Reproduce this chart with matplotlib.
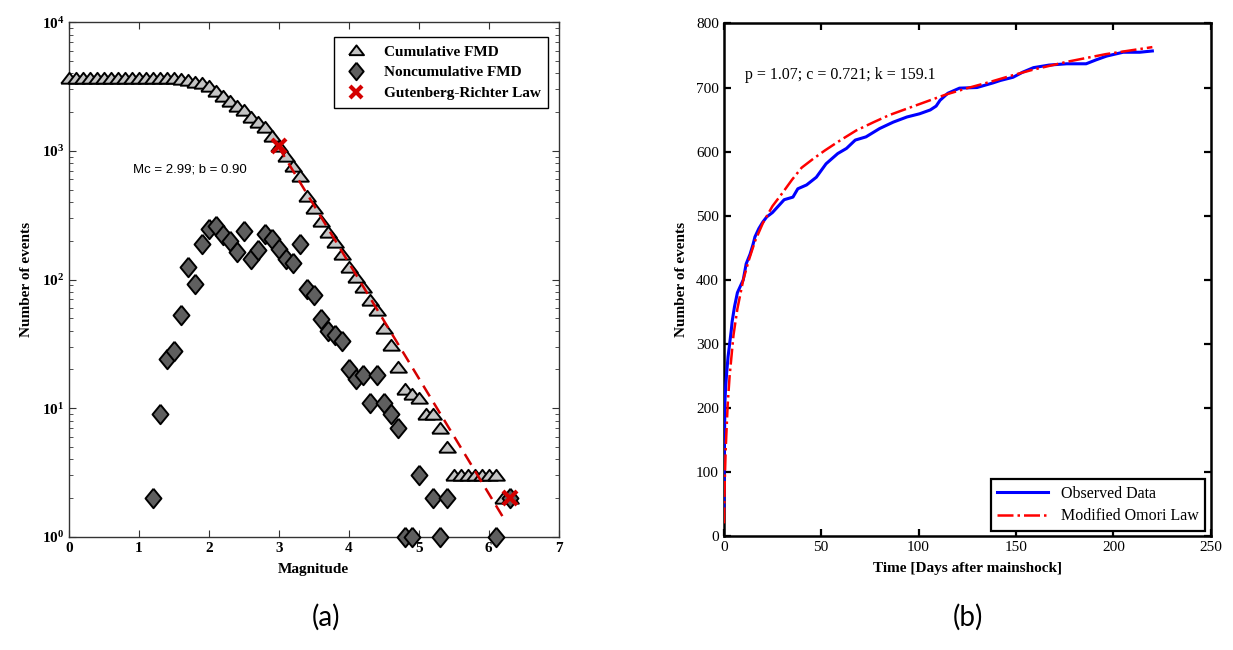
import numpy as np
import matplotlib
matplotlib.use("Agg")
import matplotlib.pyplot as plt

plt.rcParams["font.family"] = "Liberation Serif"
plt.rcParams["mathtext.fontset"] = "custom"
plt.rcParams["mathtext.bf"] = "Liberation Serif:bold"
plt.rcParams["mathtext.rm"] = "Liberation Serif"

# ---- (a) frequency-magnitude distribution ----
mag = [round(0.1 * i, 1) for i in range(64)]
cum_fmd = [3690, 3690, 3690, 3690, 3690, 3690, 3690, 3690, 3690, 3690, 3690, 3690,
           3690, 3687, 3678, 3654, 3625, 3572, 3446, 3353, 3164, 2917, 2655, 2435,
           2237, 2073, 1833, 1688, 1518, 1292, 1085, 911, 766, 632, 443, 359, 283,
           234, 194, 157, 124, 104, 87, 69, 58, 42, 31, 21, 14, 13, 12, 9, 9, 7, 5,
           3, 3, 3, 3, 3, 3, 3, 2, 2]

noncum_mag = [1.2, 1.3, 1.4, 1.5, 1.6, 1.7, 1.8, 1.9, 2.0, 2.1, 2.2, 2.3, 2.4, 2.5,
              2.6, 2.7, 2.8, 2.9, 3.0, 3.1, 3.2, 3.3, 3.4, 3.5, 3.6, 3.7, 3.8, 3.9,
              4.0, 4.1, 4.2, 4.3, 4.4, 4.5, 4.6, 4.7, 4.8, 4.9, 5.0, 5.2, 5.3, 5.4,
              6.1, 6.3]
noncum_fmd = [2, 9, 24, 28, 53, 126, 93, 189, 247, 262, 220, 198, 164, 240,
              145, 170, 226, 207, 174, 145, 134, 189, 84, 76, 49, 40, 37, 33,
              20, 17, 18, 11, 18, 11, 9, 7, 1, 1, 3, 2, 1, 2,
              1, 2]

gr_line_mag = [2.99, 6.25]
gr_line_n = [1085, 1.3]
gr_mark_mag = [3.0, 6.3]
gr_mark_n = [1085, 2]

fmd_yticks = [1, 10, 100, 1000, 10000]
fmd_yticklabels = [r"$\mathbf{10^{0}}$", r"$\mathbf{10^{1}}$", r"$\mathbf{10^{2}}$",
                   r"$\mathbf{10^{3}}$", r"$\mathbf{10^{4}}$"]

# ---- (b) aftershock decay ----
obs_t = [0.0, 0.2, 0.4, 0.6, 1.0, 1.5, 2.2, 3.0, 3.8, 4.3, 5.5, 7.0, 8.5, 10.0, 11.5,
         13.5, 15.0, 16.0, 18.0, 20.0, 22.0, 25.0, 28.0, 31.0, 35.5, 38.0, 42.5,
         47.5, 52.5, 58.5, 63.0, 67.5, 73.0, 80.0, 87.0, 94.0, 100.5, 106.0, 109.0,
         111.0, 115.0, 121.0, 130.0, 138.0, 142.0, 148.5, 153.5, 159.0, 167.0,
         176.0, 186.0, 191.0, 196.5, 205.0, 213.5, 220.0]
obs_n = [40, 100, 160, 210, 235, 255, 280, 300, 320, 335, 358, 380, 390, 400, 425,
         440, 455, 467, 480, 490, 498, 505, 515, 525, 529, 542, 548,
         560, 581, 597, 605, 618, 623, 636, 646, 654, 659, 665, 671,
         680, 691, 699, 700, 707, 711, 716, 724, 731, 735,
         737, 737, 743, 749, 755, 755, 757]

omori_t = [0.1, 0.5, 1.0, 2.0, 3.0, 5.0, 7.0, 10.0, 13.0, 16.0, 20.0, 25.0, 30.0,
           35.0, 40.0, 46.0, 52.0, 60.0, 68.0, 77.0, 85.0, 94.0, 104.0, 114.0,
           125.0, 137.0, 147.0, 159.0, 176.0, 196.0, 220.0]
omori_n = [20, 85, 137, 205, 250, 314, 355, 400, 432, 460, 488, 515, 535,
           556, 575, 589, 602, 618, 633, 646, 657, 667, 678, 689,
           699, 709, 718, 728, 740, 752, 763]

fig = plt.figure(figsize=(12.33, 6.5), dpi=100)

# panel (a)
ax1 = fig.add_axes([0.056, 0.174, 0.397, 0.792])
tri = [(-1, -0.62), (1, -0.62), (0, 0.68), (-1, -0.62)]
dia = [(0, 1), (0.82, 0), (0, -1), (-0.82, 0), (0, 1)]
ax1.plot(mag, cum_fmd, linestyle="none", marker=tri, markersize=12,
         markerfacecolor="#c4c4c4", markeredgecolor="black", markeredgewidth=1.4,
         label="Cumulative FMD", clip_on=False, zorder=3)
ax1.plot(noncum_mag, noncum_fmd, linestyle="none", marker=dia, markersize=14,
         markerfacecolor="#5f5f5f", markeredgecolor="black", markeredgewidth=1.4,
         label="Noncumulative FMD", clip_on=False, zorder=3)
ax1.plot(gr_line_mag, gr_line_n, color="#d40000", linestyle=(0, (5, 3)), linewidth=1.8,
         zorder=4)
ax1.plot(gr_mark_mag, gr_mark_n, linestyle="none", marker="x", markersize=10,
         markeredgewidth=3, color="#d40000", label="Gutenberg-Richter Law", zorder=5)
ax1.set_yscale("log")
ax1.set_xlim(0, 7)
ax1.set_ylim(1, 10000)
ax1.set_yticks(fmd_yticks)
ax1.set_yticklabels(fmd_yticklabels)
ax1.set_xticks(range(8))
ax1.set_xticklabels([str(i) for i in range(8)], fontweight="bold")
ax1.tick_params(which="both", direction="in", top=True, right=True, labelsize=11,
                color="#333333")
ax1.tick_params(which="major", length=5)
ax1.tick_params(which="minor", length=3)
for s in ax1.spines.values():
    s.set_linewidth(1.0)
    s.set_color("#333333")
ax1.set_xlabel("Magnitude", fontweight="bold", fontsize=11, labelpad=6)
ax1.set_ylabel("Number of events", fontweight="bold", fontsize=11, labelpad=6)
ax1.text(0.91, 721, "Mc = 2.99; b = 0.90", family="Liberation Sans", fontsize=9.5,
         va="center")
leg1 = ax1.legend(loc="upper right", bbox_to_anchor=(0.995, 0.985), fancybox=False,
                  edgecolor="black", framealpha=1, prop={"weight": "bold", "size": 11},
                  handletextpad=0.8, borderpad=0.5, labelspacing=0.45, handlelength=2.0,
                  markerscale=0.9)
leg1.get_frame().set_linewidth(1.0)

# panel (b)
ax2 = fig.add_axes([0.587, 0.175, 0.395, 0.789])
ax2.plot(obs_t, obs_n, color="#0000ff", linewidth=2.2, label="Observed Data", zorder=3)
ax2.plot(omori_t, omori_n, color="#ff0000", linestyle="-.", linewidth=1.8,
         label="Modified Omori Law", zorder=4)
ax2.set_xlim(0, 250)
ax2.set_ylim(0, 800)
ax2.set_xticks(range(0, 251, 50))
ax2.set_yticks(range(0, 801, 100))
ax2.tick_params(direction="in", top=True, right=True, labelsize=11, width=1.6, length=5)
for s in ax2.spines.values():
    s.set_linewidth(1.8)
ax2.set_xlabel("Time [Days after mainshock]", fontweight="bold", fontsize=11, labelpad=6)
ax2.set_ylabel("Number of events", fontweight="bold", fontsize=11, labelpad=6)
ax2.text(10.8, 719, "p = 1.07; c = 0.721; k = 159.1", fontsize=11.5, va="center")
leg2 = ax2.legend(loc="lower right", fancybox=False, edgecolor="black", framealpha=1,
                  prop={"size": 11.5}, borderpad=0.4, labelspacing=0.4,
                  handlelength=3.2, borderaxespad=0.35)
leg2.get_frame().set_linewidth(1.6)

fig.text(0.264, 0.03, "(a)", family="Lato", fontsize=20, ha="center", va="bottom")
fig.text(0.785, 0.03, "(b)", family="Lato", fontsize=20, ha="center", va="bottom")

fig.savefig("out.png", dpi=100)
